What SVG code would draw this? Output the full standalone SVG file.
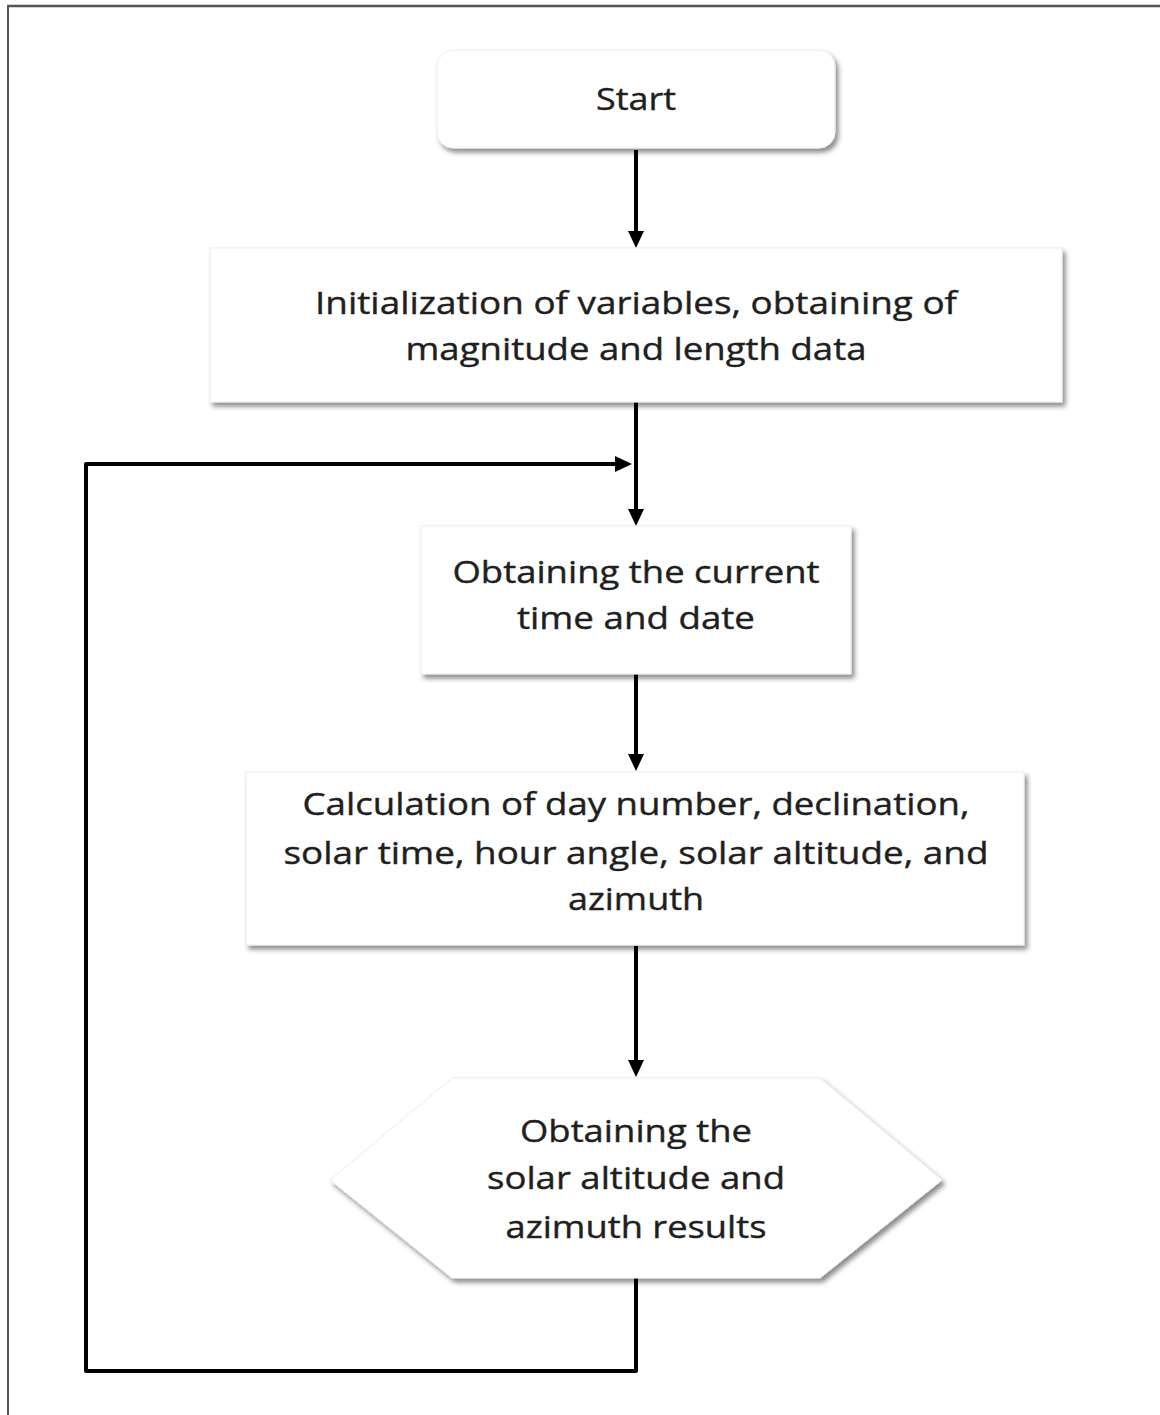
<svg xmlns="http://www.w3.org/2000/svg" width="1160" height="1415" viewBox="0 0 1160 1415">
  <defs>
    <filter id="sh" x="-10%" y="-10%" width="125%" height="130%">
      <feDropShadow dx="3" dy="4" stdDeviation="2.5" flood-color="#000" flood-opacity="0.45"/>
    </filter>
    <marker id="ah" markerUnits="userSpaceOnUse" markerWidth="18" markerHeight="18" viewBox="0 0 18 18" refX="5" refY="9" orient="auto">
      <path d="M0,1 L17,9 L0,17 z" fill="#000"/>
    </marker>
  </defs>
  <style>
    .node { fill: #ffffff; stroke: #ececec; stroke-width: 1; filter: url(#sh); }
    .t { font-family: "Open Sans", "Noto Sans", sans-serif; font-size: 31px; fill: #1f1f1f; stroke: #1f1f1f; stroke-width: 0.4; text-anchor: middle; }
    .c { fill: none; stroke: #000; stroke-width: 4; }
  </style>
  <rect x="0" y="0" width="1160" height="1415" fill="#ffffff"/>
  <g id="frame">
    <line x1="7" y1="6" x2="1160" y2="6" stroke="#555" stroke-width="2.5"/>
    <line x1="8" y1="5" x2="8" y2="1415" stroke="#555" stroke-width="2"/>
  </g>
  <g id="connectors">
    <line class="c" x1="636" y1="150" x2="636" y2="236" marker-end="url(#ah)"/>
    <line class="c" x1="636" y1="402" x2="636" y2="514" marker-end="url(#ah)"/>
    <line class="c" x1="636" y1="674" x2="636" y2="759" marker-end="url(#ah)"/>
    <line class="c" x1="636" y1="946" x2="636" y2="1065" marker-end="url(#ah)"/>
    <polyline class="c" points="636,1278 636,1371 86,1371 86,464 620,464" stroke-linejoin="round" marker-end="url(#ah)"/>
  </g>
  <g id="start">
    <rect class="node" x="437" y="50" width="398" height="98" rx="16" ry="16"/>
    <text class="t" x="636" y="110" textLength="80" lengthAdjust="spacingAndGlyphs">Start</text>
  </g>
  <g id="init">
    <rect class="node" x="210" y="248" width="852" height="154"/>
    <text class="t" x="636" y="314" textLength="642" lengthAdjust="spacingAndGlyphs">Initialization of variables, obtaining of</text>
    <text class="t" x="636" y="360" textLength="461" lengthAdjust="spacingAndGlyphs">magnitude and length data</text>
  </g>
  <g id="time">
    <rect class="node" x="421" y="526" width="430" height="148"/>
    <text class="t" x="636" y="583" textLength="367" lengthAdjust="spacingAndGlyphs">Obtaining the current</text>
    <text class="t" x="636" y="629" textLength="238" lengthAdjust="spacingAndGlyphs">time and date</text>
  </g>
  <g id="calc">
    <rect class="node" x="246" y="772" width="778" height="173"/>
    <text class="t" x="636" y="815" textLength="667" lengthAdjust="spacingAndGlyphs">Calculation of day number, declination,</text>
    <text class="t" x="636" y="864" textLength="705" lengthAdjust="spacingAndGlyphs">solar time, hour angle, solar altitude, and</text>
    <text class="t" x="636" y="910" textLength="136" lengthAdjust="spacingAndGlyphs">azimuth</text>
  </g>
  <g id="result">
    <polygon class="node" points="330,1180 452,1078 820,1078 942,1180 820,1278 452,1278"/>
    <text class="t" x="636" y="1142" textLength="232" lengthAdjust="spacingAndGlyphs">Obtaining the</text>
    <text class="t" x="636" y="1189" textLength="298" lengthAdjust="spacingAndGlyphs">solar altitude and</text>
    <text class="t" x="636" y="1238" textLength="261" lengthAdjust="spacingAndGlyphs">azimuth results</text>
  </g>
</svg>
